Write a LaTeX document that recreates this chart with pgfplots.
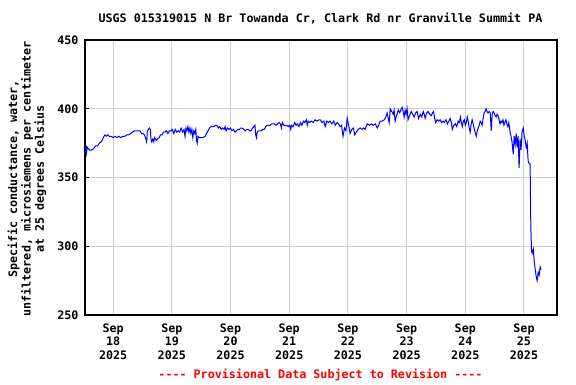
\documentclass[border=0pt]{standalone}
\usepackage{pgfplots}
\pgfplotsset{compat=1.18}
\usepackage{fontspec}
\newfontfamily\mono{DejaVu Sans Mono}
\newcommand{\mf}{\mono\bfseries\fontsize{11.7}{13.4}\selectfont}
\definecolor{gridgray}{HTML}{CCCCCC}
\begin{document}
\begin{tikzpicture}[x=1pt,y=1pt]
\path[use as bounding box] (0,0) rectangle (576,384);
\begin{axis}[at={(85pt,69pt)}, anchor=south west, scale only axis,
  width=472pt, height=275pt,
  xmin=12.5, xmax=205.5, ymin=250, ymax=450,
  xtick={24,48,72,96,120,144,168,192},
  xticklabels={Sep\\18\\2025,Sep\\19\\2025,Sep\\20\\2025,Sep\\21\\2025,Sep\\22\\2025,Sep\\23\\2025,Sep\\24\\2025,Sep\\25\\2025},
  ytick={250,300,350,400,450},
  /pgf/number format/assume math mode=true,
  grid=major, grid style={color=gridgray, line width=1pt},
  axis line style={line width=1.3pt},
  tick align=inside, major tick length=4pt,
  ytick pos=left,
  xtick style={draw=none},
  ytick style={black, line width=0.9pt},
  ticklabel style={font=\mf},
  xticklabel style={align=center, yshift=-5pt},
  yticklabel style={xshift=-3pt},
  clip=true]
\addplot[color=blue, line width=1pt, mark=none] coordinates {
(12.5,370)(12.7,367)(12.9,373)(13.1,368)(13.4,372)(13.8,371)(14.4,370)(15.2,370)(16.0,371)(16.8,373)(17.6,373)(18.4,375)(19.2,376)(20.0,379)(20.6,381)(21.2,380)(21.8,381)(22.4,380)(23.2,380)(24.0,379)(24.8,380)(25.6,379)(26.4,380)(27.2,379)(28.0,380)(28.8,380)(29.6,381)(30.4,381)(31.2,382)(32.0,383)
(32.6,384)(33.4,384)(34.2,384)(35.0,384)(35.6,382)(36.2,382)(36.8,381)(37.4,378)(37.7,376)(38.0,384)(38.4,385)(38.8,386)(39.2,385)(39.5,378)(39.8,376)(40.2,378)(40.6,376)(41.0,379)(41.6,377)(42.2,378)(42.8,379)
(43.4,381)(44.0,381)(44.6,383)(45.2,383)(45.8,384)(46.4,382)(47.0,384)(47.6,384)(48.2,385)(48.8,382)(49.4,385)(50.0,383)(50.6,384)(51.2,383)(51.8,386)(52.4,383)(53.0,385)(53.4,380)(53.8,386)(54.2,384)(54.6,387)(55.0,383)(55.4,386)(55.8,382)(56.2,385)(56.6,379)(57.0,384)(57.4,382)(57.8,385)(58.1,377)(58.4,375)(58.7,380)(59.2,379)(60.0,379)(60.8,379)(61.6,380)
(62.2,382)(62.8,384)(63.4,386)(64.0,387)(64.6,387)(65.2,387)(65.8,388)(66.4,388)(67.0,386)(67.6,387)(68.2,385)(68.8,386)(69.4,385)(69.8,387)(70.2,384)(70.8,386)(71.4,385)(72.0,386)(72.6,384)(73.2,385)(73.8,383)(74.4,384)(75.0,385)(75.6,385)(76.2,386)(76.8,386)(77.4,385)(78.0,384)(78.6,385)(79.2,385)(79.8,384)(80.4,384)(81.0,386)(81.6,387)(82.0,388)(82.3,381)(82.6,379)(82.9,383)(83.4,384)(84.0,384)(84.6,384)(85.2,385)
(85.8,385)(86.4,387)(87.0,388)(87.6,388)(88.2,388)(88.8,389)(89.4,389)(90.0,389)(90.6,388)(91.2,389)(91.8,390)(92.4,389)(92.8,386)(93.2,390)(93.8,388)(94.4,388)(95.0,388)(95.6,387)(96.2,388)(96.6,385)(97.0,388)(97.6,387)(98.2,390)(98.8,388)(99.4,389)(100.0,387)(100.6,390)(101.2,388)(101.8,391)(102.4,390)(103.0,392)(103.4,388)(103.8,391)(104.4,390)(105.0,391)
(105.8,390)(106.6,392)(107.4,391)(108.2,392)(108.7,392)(109.4,390)(110.2,391)(110.7,387)(111.4,391)(112.0,390)(112.7,391)(113.4,389)(114.2,391)(114.8,388)(115.6,390)(116.2,389)(116.8,387)(117.4,388)(118.0,380)(118.6,386)(119.2,384)(119.7,393)(120.3,388)(120.9,382)(121.6,385)(122.2,386)(122.8,381)(123.4,383)(124.2,385)(125.0,386)(125.8,385)(126.4,386)(127.0,385)(127.9,389)(128.8,388)(129.6,389)(130.4,388)(131.2,389)(132.0,386)(132.6,388)(133.2,391)(134.0,391)(134.9,392)(135.5,394)(136.0,397)(136.5,393)(136.9,390)(137.3,400)(137.9,398)(138.5,396)(138.9,399)(139.3,391)(139.9,395)(140.6,399)(141.2,397)(141.8,400)(142.2,401)(142.6,398)(143.0,394)(143.4,399)(143.8,396)(144.2,400)(144.6,392)(145.2,395)(145.9,398)(146.5,396)(147.1,394)(147.7,397)(148.3,398)(148.9,393)(149.6,396)(150.2,394)(150.8,398)(151.2,396)(151.6,393)(152.2,397)(152.8,398)(153.4,396)(154.1,395)(154.6,397)(155.0,398)(155.5,393)(155.9,390)(156.5,392)(157.1,391)(157.7,392)(158.3,390)(158.9,391)(159.5,390)(160.1,392)(160.7,389)(161.3,391)(161.8,393)(162.3,390)(162.7,385)(163.3,388)(163.9,389)(164.5,387)(165.1,391)(165.6,390)(166.0,394)(166.4,390)(166.8,387)(167.2,391)(167.6,392)(168.0,388)(168.4,390)(168.8,394)(169.2,391)(169.6,386)(170.0,383)(170.4,389)(170.8,392)(171.2,389)(171.6,386)(172.0,383)(172.5,380)(172.9,384)(173.3,386)(173.7,388)(174.1,391)(174.5,390)(174.9,388)(175.3,393)(175.7,397)(176.1,398)(176.5,400)(176.9,398)(177.3,397)(177.8,398)(178.2,397)(178.6,384)(179.0,396)(179.4,398)(179.8,397)(180.2,395)(180.6,394)(181.0,396)(181.4,395)(181.8,392)(182.2,389)(182.6,391)(183.0,390)(183.4,392)(183.8,388)(184.2,390)(184.6,392)(185.0,389)(185.4,387)(185.8,390)(186.3,383)(186.7,380)(187.1,376)(187.6,367)(188.0,380)(188.4,374)(188.8,382)(189.2,372)(189.6,380)(190.0,357)(190.4,378)(190.8,370)(191.2,383)(191.7,386)(192.1,380)(192.5,377)(192.9,372)(193.3,375)(193.7,362)(194.1,360)(194.5,360)(194.8,314)(195.1,296)(195.4,295)(195.8,298)(196.2,289)(196.6,283)(197.0,278)(197.4,275)(197.8,281)(198.2,279)(198.6,285)(199.0,283)
};
\end{axis}
\node[font=\mf] at (320.5,365) {USGS 015319015 N Br Towanda Cr, Clark Rd nr Granville Summit PA};
\node[font=\mf, rotate=90, align=center] at (27,205) {Specific conductance, water,\\unfiltered, microsiemens per centimeter\\at 25 degrees Celsius};
\node[font=\mf, text=red] at (320.5,9) {---- Provisional Data Subject to Revision ----};
\end{tikzpicture}
\end{document}
